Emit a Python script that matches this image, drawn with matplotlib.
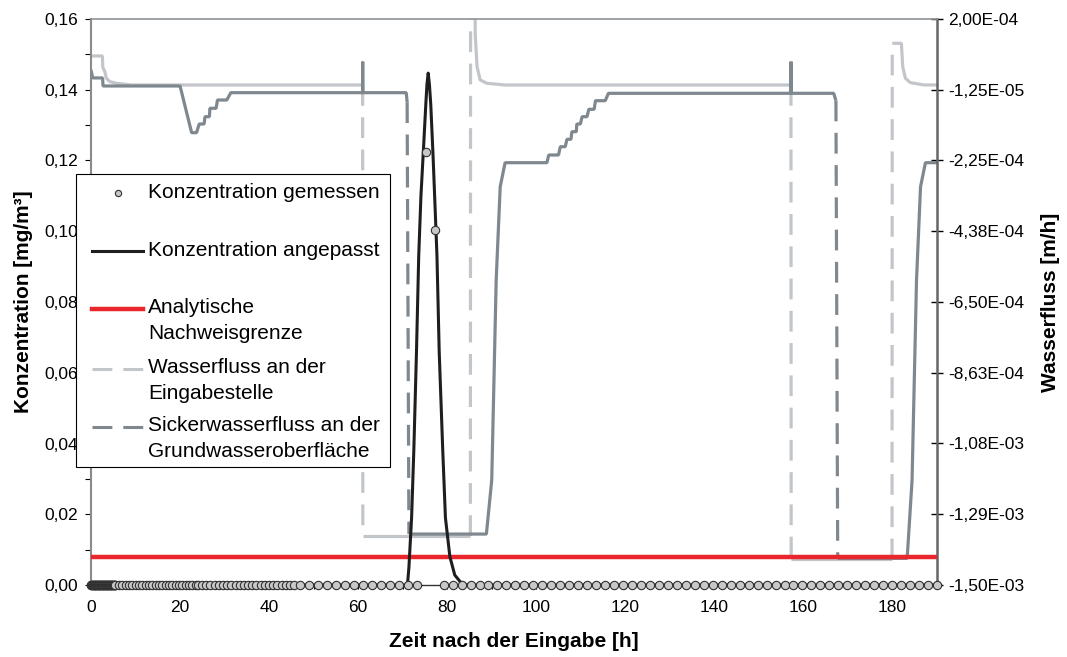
import numpy as np
import matplotlib.pyplot as plt
from matplotlib.collections import LineCollection
from matplotlib.lines import Line2D
from matplotlib.patches import Rectangle
from matplotlib.ticker import FixedLocator, FixedFormatter, MultipleLocator, FuncFormatter

plt.rcParams['font.family'] = ['Liberation Sans', 'DejaVu Sans']

# --- data -----------------------------------------------------------------
# measured concentration [mg/m3]: sampling times where nothing was found (0)
meas_t_zero = np.concatenate([
    np.arange(0.0, 5.5, 0.1),
    np.arange(5.5, 24.0, 0.75),
    np.arange(24.0, 46.5, 0.94),
    np.linspace(47.0, 73.2, 14),
    np.linspace(79.2, 190.0, 56),
])
meas_c_zero = np.zeros(len(meas_t_zero))
# the two positive samples
peak_t = [75.2, 77.2]
peak_c = [0.1225, 0.1004]

# fitted concentration curve
fit_t = [0, 70.8, 71.1, 71.4, 72.0, 72.5, 73.1, 73.6, 74.1, 74.7, 75.2, 75.45, 75.73,
         76.0, 76.3, 76.8, 77.3, 77.7, 78.2, 79.0, 79.6, 80.6, 81.7, 83.2, 84.5, 190]
fit_c = [0, 0, 0.0005, 0.005, 0.019, 0.038, 0.066, 0.093, 0.110, 0.124, 0.136, 0.1415, 0.1447,
         0.1415, 0.136, 0.122, 0.106, 0.093, 0.066, 0.038, 0.019, 0.008, 0.0028, 0.0005, 0, 0]

nachweisgrenze = 0.008

# water flux at the injection point [m/h]
light_t = [0, 2.55, 2.65, 3.1, 3.45, 4.2, 5.7, 9.1, 61.0, 61.05, 85.2, 85.25, 86.2, 86.3,
           86.7, 87.4, 88.9, 93.0, 157.2, 157.25, 179.9, 179.95, 182.0, 182.3, 182.9, 184.0,
           187.0, 190.0]
light_v = [8.9e-5, 8.9e-5, 5.5e-5, 4.2e-5, 2.2e-5, 1.2e-5, 7e-6, 1.8e-6, 1.8e-6, -1.353e-3,
           -1.353e-3, 3.0e-4, 3.0e-4, 1.52e-4, 5.7e-5, 1.7e-5, 7e-6, 1.8e-6, 1.8e-6, -1.423e-3,
           -1.423e-3, 1.27e-4, 1.27e-4, 5.7e-5, 2.2e-5, 9e-6, 2e-6, 1.8e-6]

# seepage flux at the groundwater table [m/h]
dark_t = [0, 0.4, 2.6, 2.7, 20.0, 22.6, 23.7, 24.3, 25.4, 25.6, 26.6, 26.7, 28.1, 28.4, 30.5,
          31.4, 61.0, 61.02, 61.04, 70.8, 71.0, 71.4, 88.8, 90.0, 91.0, 91.9, 93.0, 102.4,
          102.8, 105.0, 105.4, 106.5, 106.9, 107.8, 108.0, 109.0, 109.1, 109.9, 110.3, 111.4,
          111.8, 113.0, 113.3, 115.5, 116.2, 157.2, 157.22, 157.24, 166.8, 167.3, 167.7,
          183.3, 184.4, 185.4, 186.3, 187.4, 190.0]
dark_v = [4.7e-5, 2.3e-5, 2.3e-5, -1.2e-6, -1.2e-6, -1.415e-4, -1.415e-4, -1.154e-4, -1.154e-4,
          -9.34e-5, -9.34e-5, -6.82e-5, -6.82e-5, -4.33e-5, -4.33e-5, -2.13e-5, -2.13e-5, 7.2e-5,
          -2.13e-5, -2.13e-5, -5.0e-5, -1.347e-3, -1.347e-3, -1.185e-3, -5.84e-4, -3.04e-4,
          -2.316e-4, -2.316e-4, -2.085e-4, -2.085e-4, -1.836e-4, -1.836e-4, -1.613e-4, -1.613e-4,
          -1.385e-4, -1.385e-4, -1.154e-4, -1.154e-4, -9.34e-5, -9.34e-5, -7.12e-5, -7.12e-5,
          -4.54e-5, -4.54e-5, -2.32e-5, -2.32e-5, 7.2e-5, -2.32e-5, -2.32e-5, -4.5e-5, -1.42e-3,
          -1.42e-3, -1.185e-3, -5.84e-4, -3.04e-4, -2.316e-4, -2.316e-4]

flow_ticks = np.linspace(2e-4, -1.5e-3, 9)
flow_ticklabels = ["2,00E-04", "-1,25E-05", "-2,25E-04", "-4,38E-04", "-6,50E-04",
                   "-8,63E-04", "-1,08E-03", "-1,29E-03", "-1,50E-03"]

# --- style ----------------------------------------------------------------
W, H = 1067, 657
c_light = '#c2c5ca'
c_dark = '#80888f'
c_red = '#e8262c'
c_fit = '#1e1e1e'
dash = (0, (6.5, 3.6))


def draw_flow(ax, t, v, color):
    # excel restarts the dash pattern on every segment: the dense parts look
    # solid, only the big jumps show up dashed
    solid, dashed = [], []
    cur = [(t[0], v[0])]
    for t0, v0, t1, v1 in zip(t[:-1], v[:-1], t[1:], v[1:]):
        if t1 - t0 < 0.5 and abs(v1 - v0) > 2e-4:
            if len(cur) > 1:
                solid.append(cur)
            dashed.append([(t0, v0), (t1, v1)])
            cur = [(t1, v1)]
        else:
            cur.append((t1, v1))
    if len(cur) > 1:
        solid.append(cur)
    ax.add_collection(LineCollection(solid, colors=color, linewidths=2.3,
                                     capstyle='butt', joinstyle='bevel'))
    ax.add_collection(LineCollection(dashed, colors=color, linewidths=2.3,
                                     linestyles=[dash], capstyle='butt'))


fig = plt.figure(figsize=(W / 100, H / 100), dpi=100)
ax = fig.add_axes([91 / W, 1 - 585 / H, 846 / W, 566 / H])
ax2 = ax.twinx()
ax.set_zorder(2)
ax2.set_zorder(1)
ax.patch.set_visible(False)

# water fluxes (right axis)
draw_flow(ax2, light_t, light_v, c_light)
draw_flow(ax2, dark_t, dark_v, c_dark)
ax2.set_ylim(-1.5e-3, 2e-4)
ax2.yaxis.set_major_locator(FixedLocator(flow_ticks))
ax2.yaxis.set_major_formatter(FixedFormatter(flow_ticklabels))
ax2.tick_params(axis='y', direction='inout', length=8, width=1, labelsize=12.5, pad=4)
ax2.set_ylabel("Wasserfluss [m/h]", fontsize=15, fontweight='bold', labelpad=12)
for s in ['left', 'top', 'bottom']:
    ax2.spines[s].set_visible(False)
ax2.spines['right'].set_color('#666666')
ax2.spines['right'].set_linewidth(1.8)

# concentrations (left axis)
ax.axhline(nachweisgrenze, color=c_red, lw=3.2, zorder=3)
ax.plot(fit_t, fit_c, color=c_fit, lw=2.2, zorder=4, solid_joinstyle='round')
ax.plot(meas_t_zero, meas_c_zero, 'o', ms=6, mfc='#c8c8c8', mec='#303030', mew=0.8,
        clip_on=False, zorder=6)
ax.plot(peak_t, peak_c, 'o', ms=6, mfc='#c8c8c8', mec='#303030', mew=0.8, zorder=6)

ax.set_xlim(0, 190)
ax.set_ylim(0, 0.16)
ax.xaxis.set_major_locator(MultipleLocator(20))
ax.xaxis.set_minor_locator(MultipleLocator(10))
ax.yaxis.set_major_locator(MultipleLocator(0.02))
ax.yaxis.set_minor_locator(MultipleLocator(0.01))
ax.yaxis.set_major_formatter(FuncFormatter(lambda v, _: f"{v:.2f}".replace('.', ',')))
ax.tick_params(axis='y', which='both', direction='out', length=4.5, width=0.8, labelsize=12.5, pad=5)
ax.tick_params(axis='x', which='both', direction='out', length=3, width=0.8, labelsize=12.5, pad=8)
ax.set_xlabel("Zeit nach der Eingabe [h]", fontsize=15, fontweight='bold', labelpad=12)
ax.set_ylabel("Konzentration [mg/m³]", fontsize=15, fontweight='bold', labelpad=8)

ax.spines['right'].set_visible(False)
ax.spines['top'].set_color('#8d9196')
ax.spines['top'].set_linewidth(1.2)
ax.spines['left'].set_color('#8a8a8a')
ax.spines['left'].set_linewidth(1.5)
ax.spines['bottom'].set_color('#333333')
ax.spines['bottom'].set_linewidth(1.0)

# --- legend (drawn by hand, excel style) ------------------------------------
def fx(x):
    return x / W


def fy(y):
    return 1 - y / H


fig.add_artist(Rectangle((fx(76), fy(467)), fx(390) - fx(76), fy(174) - fy(467),
                         transform=fig.transFigure, fc='white', ec='black', lw=0.8, zorder=10))

entries = [
    ('marker', "Konzentration gemessen", 193),
    ('fit', "Konzentration angepasst", 251),
    ('red', "Analytische\nNachweisgrenze", 309),
    ('light', "Wasserfluss an der\nEingabestelle", 369),
    ('dark', "Sickerwasserfluss an der\nGrundwasseroberfläche", 427),
]
for kind, label, y in entries:
    if kind == 'marker':
        h = Line2D([fx(117.5)], [fy(y)], ls='none', marker='o', ms=4.5, mfc='#c8c8c8',
                   mec='#303030', mew=0.8)
    elif kind == 'fit':
        h = Line2D([fx(92), fx(143)], [fy(y), fy(y)], color=c_fit, lw=2.2)
    elif kind == 'red':
        h = Line2D([fx(92), fx(143)], [fy(y), fy(y)], color=c_red, lw=3.2)
    else:
        h = Line2D([fx(92), fx(143)], [fy(y), fy(y)], color=c_light if kind == 'light' else c_dark,
                   lw=2.2, ls=dash, dash_capstyle='butt')
    h.set_transform(fig.transFigure)
    h.set_zorder(11)
    fig.add_artist(h)
    nlines = label.count('\n') + 1
    fig.text(fx(148), fy(y + (nlines - 1) * 11.5), label, fontsize=15, va='center',
             linespacing=1.5, zorder=11)

fig.savefig('out.png', dpi=100)
